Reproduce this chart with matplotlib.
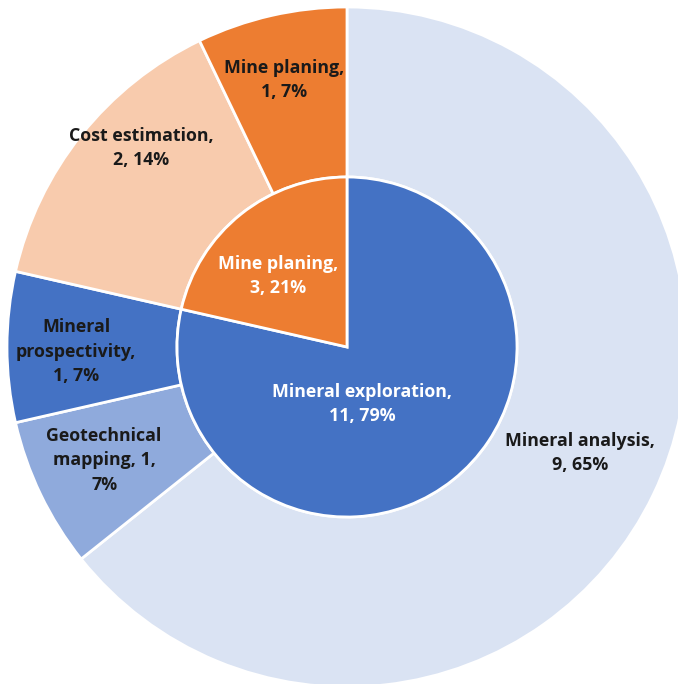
import numpy as np
import matplotlib
matplotlib.use("Agg")
import matplotlib.pyplot as plt

# inner ring: main categories
inner_names = ["Mineral exploration", "Mine planing"]
inner_values = [11, 3]
inner_pct = [79, 21]
inner_colors = ["#4472C4", "#ED7D31"]

# outer ring: sub categories
outer_names = ["Mineral analysis", "Geotechnical mapping", "Mineral prospectivity",
               "Cost estimation", "Mine planing"]
outer_values = [9, 1, 1, 2, 1]
outer_pct = [65, 7, 7, 14, 7]
outer_colors = ["#DAE3F3", "#8FAADC", "#4472C4", "#F8CBAD", "#ED7D31"]

inner_text = ["Mineral exploration,\n11, 79%", "Mine planing,\n3, 21%"]
outer_text = ["Mineral analysis,\n9, 65%", "Geotechnical\nmapping, 1,\n7%",
              "Mineral\nprospectivity,\n1, 7%", "Cost estimation,\n2, 14%",
              "Mine planing,\n1, 7%"]

# label placement (radius, angle in degrees)
inner_lpos = [(59, -75), (99, 134)]
outer_lpos = [(256, -24.5), (268, 205), (271, 181), (286, 136), (274, 103.3)]

R = 340

fig = plt.figure(figsize=(6.78, 6.84), dpi=100)
ax = fig.add_axes([0, 0, 1, 1])

ax.pie(outer_values, radius=R, startangle=90, counterclock=False,
       colors=outer_colors,
       wedgeprops=dict(width=R / 2, edgecolor="white", linewidth=2))
ax.pie(inner_values, radius=R / 2, startangle=90, counterclock=False,
       colors=inner_colors,
       wedgeprops=dict(edgecolor="white", linewidth=2))

font = dict(family="Open Sans", fontsize=12.8, fontweight="bold", ha="center",
            va="center", linespacing=1.45)

for txt, (r, a) in zip(inner_text, inner_lpos):
    t = np.deg2rad(a)
    ax.text(r * np.cos(t), r * np.sin(t), txt, color="white", **font)

for txt, (r, a) in zip(outer_text, outer_lpos):
    t = np.deg2rad(a)
    ax.text(r * np.cos(t), r * np.sin(t), txt, color="#1A1A1A", **font)

ax.set_xlim(-347, 331)
ax.set_ylim(-337, 347)
ax.axis("off")

fig.savefig("out.png", dpi=100)
